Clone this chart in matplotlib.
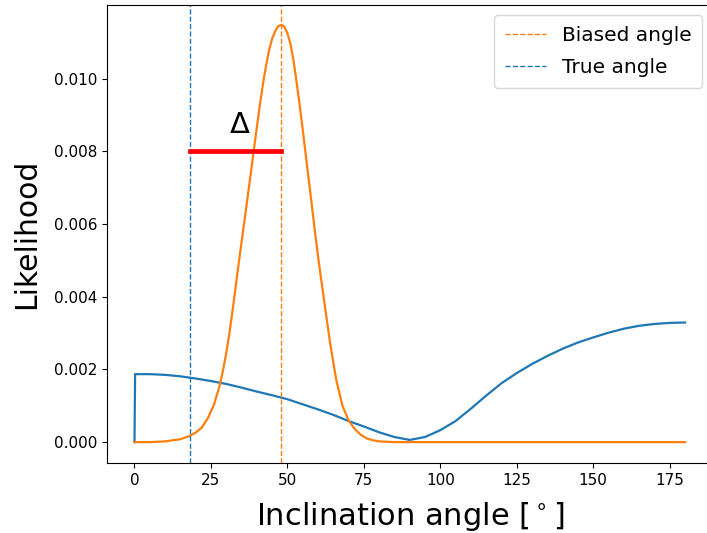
import matplotlib
matplotlib.use("Agg")
import matplotlib.pyplot as plt

# angles marked on the plot [deg]
true_angle = 18
biased_angle = 48
delta_level = 0.008

# likelihood curves
blue_x = [0, 0.2, 5, 10, 15, 20, 25, 30, 35, 40, 45, 50, 55, 60, 65, 70, 75,
          80, 85, 90, 95, 100, 105, 110, 115, 120, 125, 130, 135, 140, 145,
          150, 155, 160, 165, 170, 175, 180]
blue_y = [0.0, 0.00187, 0.00187, 0.00185, 0.00181, 0.00175, 0.00168, 0.00160,
          0.00150, 0.00139, 0.00129, 0.00118, 0.00104, 0.00090, 0.00075,
          0.00058, 0.00043, 0.00027, 0.00014, 0.00006, 0.00014, 0.00033,
          0.00058, 0.00092, 0.00128, 0.00162, 0.00190, 0.00215, 0.00237,
          0.00257, 0.00274, 0.00288, 0.00301, 0.00312, 0.00320, 0.00325,
          0.00328, 0.00329]

orange_x = [0, 5, 10, 15, 18, 20, 22, 24, 26, 28, 29, 30, 31, 32, 33, 34, 35,
            36, 37, 38, 39, 40, 41, 42, 43, 44, 45, 46, 47, 48, 49, 50, 51,
            52, 53, 54, 55, 56, 57, 58, 59, 60, 61, 62, 63, 64, 66, 68, 70,
            72, 74, 76, 78, 80, 85, 90, 180]
orange_y = [0.0, 0.0, 0.00002, 0.00008, 0.00017, 0.00026, 0.00040, 0.00066,
            0.00103, 0.00160, 0.00200, 0.00245, 0.00298, 0.00358, 0.00422,
            0.00487, 0.00550, 0.00612, 0.00675, 0.00738, 0.00802, 0.00866,
            0.00928, 0.00985, 0.01035, 0.01078, 0.01110, 0.01131, 0.01144,
            0.01148, 0.01143, 0.01125, 0.01095, 0.01050, 0.00990, 0.00928,
            0.00860, 0.00790, 0.00720, 0.00650, 0.00580, 0.00512, 0.00450,
            0.00390, 0.00330, 0.00270, 0.00170, 0.00100, 0.00060, 0.00036,
            0.00020, 0.00010, 0.00005, 0.00002, 0.0, 0.0, 0.0]

fig = plt.figure(figsize=(7.07, 5.33), dpi=100)
# the original is cropped on the right, so the axes run just past the edge
ax = fig.add_axes([0.1513, 0.1313, 0.8565, 0.8593])

ax.plot(blue_x, blue_y, color="C0", lw=1.6)
ax.plot(orange_x, orange_y, color="C1", lw=1.6)
ax.axvline(biased_angle, color="C1", ls="--", lw=1, label="Biased angle")
ax.axvline(true_angle, color="C0", ls="--", lw=1, label="True angle")
ax.plot([true_angle, biased_angle], [delta_level, delta_level], color="red", lw=3.4)
ax.text(34.5, 0.0085, r"$\Delta$", fontsize=21, ha="center", va="baseline")

ax.set_xlim(-9, 189)
ax.set_ylim(-0.000575, 0.012025)
ax.set_xticks([0, 25, 50, 75, 100, 125, 150, 175])
ax.set_yticks([0.0, 0.002, 0.004, 0.006, 0.008, 0.010])
ax.tick_params(labelsize=11)
ax.spines["right"].set_visible(False)
ax.set_xlabel(r"Inclination angle [$^\circ$]", fontsize=22, labelpad=8.5)
ax.set_ylabel("Likelihood", fontsize=21.5, labelpad=9)
ax.legend(loc="upper right", fontsize=14.5, labelspacing=0.65, borderpad=0.55)

fig.savefig("out.png", dpi=100)
